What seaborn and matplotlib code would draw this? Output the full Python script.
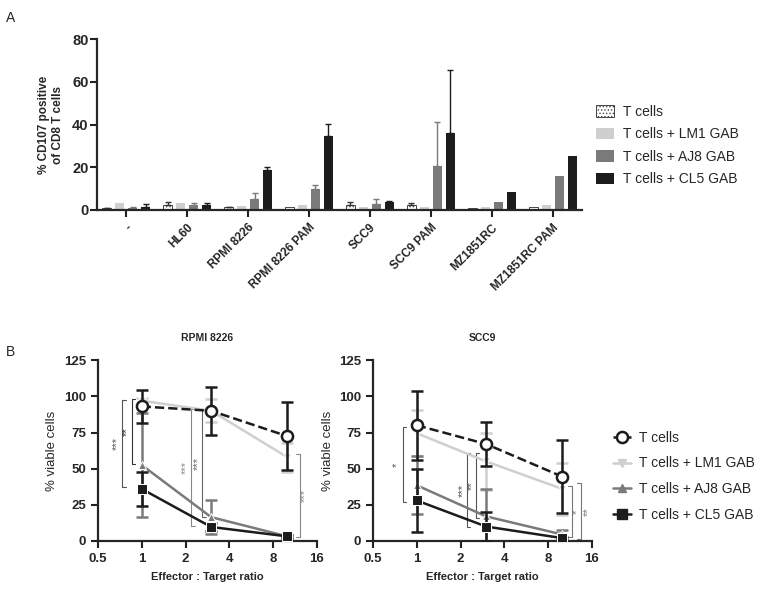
import numpy as np
import pandas as pd
import seaborn as sns
import matplotlib.pyplot as plt
from matplotlib.patches import Patch
from matplotlib.lines import Line2D

# Panel A: CD107 degranulation
cell_lines = ['-', 'HL60', 'RPMI 8226', 'RPMI 8226 PAM', 'SCC9', 'SCC9 PAM', 'MZ1851RC', 'MZ1851RC PAM']
groups = ['T cells', 'T cells + LM1 GAB', 'T cells + AJ8 GAB', 'T cells + CL5 GAB']
cd107_t = [0.8, 2.2, 1.2, 1.5, 2.3, 2.2, 0.8, 1.2]
cd107_t_err = [0.3, 1.4, 0.3, 0.0, 1.4, 1.2, 0.0, 0.0]
cd107_lm1 = [3.3, 3.3, 2.0, 2.3, 1.2, 1.4, 1.5, 2.3]
cd107_lm1_err = [0, 0, 0, 0, 0, 0, 0, 0]
cd107_aj8 = [0.8, 2.2, 5.1, 9.8, 2.7, 20.6, 3.6, 15.9]
cd107_aj8_err = [0.7, 1.2, 3.0, 1.9, 2.4, 20.4, 0.0, 0.0]
cd107_cl5 = [1.2, 2.3, 18.7, 34.8, 3.7, 36.2, 8.3, 25.1]
cd107_cl5_err = [1.8, 0.8, 1.4, 5.3, 0.7, 29.5, 0.0, 0.0]

# Panel B: viability vs E:T ratio
ratios = [1, 3, 10]
rpmi_t = [93, 90, 72.5]
rpmi_t_err = [11.5, 16.5, 23.5]
rpmi_lm1 = [97, 90, 58]
rpmi_lm1_err = [2, 8, 10]
rpmi_aj8 = [52.5, 16.5, 3.2]
rpmi_aj8_err = [36, 11.5, 1]
rpmi_cl5 = [36, 9.7, 3.2]
rpmi_cl5_err = [11.7, 3, 1]

scc9_t = [80, 67, 44.5]
scc9_t_err = [24, 15, 25]
scc9_lm1 = [74.5, 55, 36]
scc9_lm1_err = [16, 20, 18]
scc9_aj8 = [38.5, 17, 4.5]
scc9_aj8_err = [20, 19, 3]
scc9_cl5 = [28, 10, 2]
scc9_cl5_err = [22, 10, 1]

colors = ['white', '#cfcfcf', '#7a7a7a', '#1c1c1c']

sns.set_style('ticks')
plt.rcParams['font.family'] = ['Liberation Sans', 'DejaVu Sans']
plt.rcParams['hatch.linewidth'] = 0.6

fig = plt.figure(figsize=(7.6, 5.89), dpi=100)

# ---------------- Panel A ----------------
axA = fig.add_axes([0.1276, 0.6435, 0.638, 0.290])
vals = [cd107_t, cd107_lm1, cd107_aj8, cd107_cl5]
errs = [cd107_t_err, cd107_lm1_err, cd107_aj8_err, cd107_cl5_err]
df = pd.DataFrame({
    'line': np.tile(cell_lines, 4),
    'group': np.repeat(groups, len(cell_lines)),
    'value': np.concatenate(vals),
})
sns.barplot(data=df, x='line', y='value', hue='group', order=cell_lines, hue_order=groups,
            palette=colors, width=0.85, gap=0.3, errorbar=None, legend=False, ax=axA,
            linewidth=0)
for p in axA.patches:
    if p.get_facecolor()[:3] == (1.0, 1.0, 1.0):
        p.set_hatch('.....')
        p.set_edgecolor('#444444')
        p.set_linewidth(0.7)
slot = 0.85 / 4
for j in range(4):
    xs = np.arange(len(cell_lines)) + (j - 1.5) * slot
    ecol = '#333333' if j == 0 else colors[j]
    e = np.array(errs[j])
    m = e > 0
    axA.errorbar(xs[m], np.array(vals[j])[m], yerr=[np.zeros(m.sum()), e[m]], fmt='none',
                 ecolor=ecol, elinewidth=1.0, capsize=2.5, capthick=1.0)
axA.set_ylim(0, 80)
axA.set_yticks([0, 20, 40, 60, 80])
axA.set_xlim(-0.48, 7.48)
axA.set_xlabel('')
axA.set_ylabel('% CD107 positive\nof CD8 T cells', fontsize=8.5, fontweight='bold',
               labelpad=6, linespacing=1.2)
axA.set_xticks(range(len(cell_lines)))
axA.set_xticklabels(cell_lines, rotation=45, ha='right', rotation_mode='anchor',
                    fontsize=8.5, fontweight='bold')
for t in axA.get_yticklabels():
    t.set_fontweight('bold')
    t.set_fontsize(10.5)
axA.tick_params(width=1.5, length=5, color='#222222')
axA.tick_params(axis='y', pad=1)
sns.despine(ax=axA)
for s in ['left', 'bottom']:
    axA.spines[s].set_linewidth(1.6)

handlesA = [Patch(facecolor='white', edgecolor='#444444', hatch='.....', linewidth=0.7)] + \
    [Patch(facecolor=c, edgecolor='none') for c in colors[1:]]
fig.legend(handlesA, groups, loc='upper left', bbox_to_anchor=(0.768, 0.8436), frameon=False,
           fontsize=10, handlelength=1.3, handleheight=0.9, labelspacing=0.62, handletextpad=0.6)

# ---------------- Panel B ----------------
panels = [
    ('RPMI 8226', [rpmi_t, rpmi_lm1, rpmi_aj8, rpmi_cl5],
     [rpmi_t_err, rpmi_lm1_err, rpmi_aj8_err, rpmi_cl5_err], 0.1289),
    ('SCC9', [scc9_t, scc9_lm1, scc9_aj8, scc9_cl5],
     [scc9_t_err, scc9_lm1_err, scc9_aj8_err, scc9_cl5_err], 0.4908),
]
# significance brackets: (x_line, x_text, y_low, y_high, text, side, color)
brackets = {
    'RPMI 8226': [(0.73, 0.675, 37, 97.5, '***', 'right', '#555555'),
                  (0.854, 0.79, 53, 98, '**', 'right', '#333333'),
                  (2.19, 2.02, 10.6, 91, '***', 'right', '#888888'),
                  (2.6, 2.45, 16.3, 91, '***', 'right', '#666666'),
                  (12.2, 13.3, 2.8, 60, '***', 'left', '#888888')],
    'SCC9': [(0.80, 0.73, 27, 78.7, '*', 'right', '#555555'),
             (2.2, 2.07, 9.4, 60.5, '***', 'right', '#555555'),
             (2.54, 2.38, 15.7, 60.5, '**', 'right', '#555555'),
             (11.7, 12.6, 2.5, 38.2, '*', 'left', '#777777'),
             (13.4, 14.9, 1.2, 39.8, '**', 'left', '#777777')],
}
line_styles = [
    dict(color='#1c1c1c', marker='o', linestyle='--', markerfacecolor='white',
         markeredgecolor='#1c1c1c', markeredgewidth=1.8, markersize=8, zorder=6),
    dict(color='#cfcfcf', marker='v', linestyle='-', markersize=6, zorder=3),
    dict(color='#7a7a7a', marker='^', linestyle='-', markersize=6, zorder=4),
    dict(color='#1c1c1c', marker='s', linestyle='-', markersize=7, zorder=5),
]
order = [1, 2, 3, 0]
for title, svals, serrs, left in panels:
    ax = fig.add_axes([left, 0.0815, 0.288, 0.307])
    for j in order:
        st = line_styles[j]
        ax.errorbar(ratios, svals[j], yerr=serrs[j], fmt='none', ecolor=st['color'],
                    elinewidth=1.8, capsize=4, capthick=1.8, zorder=st['zorder'])
        sns.lineplot(x=ratios, y=svals[j], ax=ax, linewidth=1.8, **st)
    for xl, xt, y0, y1, txt, side, col in brackets[title]:
        k = 1.06 if side == 'right' else 1 / 1.06
        ax.plot([xl * k, xl, xl, xl * k], [y0, y0, y1, y1], color=col, lw=0.8, zorder=2)
        ax.text(xt, (y0 + y1) / 2, txt, rotation=90, ha='center', va='center',
                fontsize=8, color=col)
    ax.set_xscale('log', base=2)
    ax.set_xlim(0.5, 16)
    ax.set_xticks([0.5, 1, 2, 4, 8, 16])
    ax.set_xticklabels(['0.5', '1', '2', '4', '8', '16'])
    ax.minorticks_off()
    ax.set_ylim(0, 125)
    ax.set_yticks([0, 25, 50, 75, 100, 125])
    for t in ax.get_xticklabels() + ax.get_yticklabels():
        t.set_fontweight('bold')
        t.set_fontsize(9.5)
    ax.set_xlabel('Effector : Target ratio', fontsize=8, fontweight='bold', labelpad=5)
    ax.set_ylabel('% viable cells', fontsize=9.5, labelpad=4)
    ax.set_title(title, fontsize=7.5, fontweight='bold', pad=14)
    ax.tick_params(width=1.5, length=5, color='#222222')
    sns.despine(ax=ax)
    for s in ['left', 'bottom']:
        ax.spines[s].set_linewidth(1.6)

handlesB = [Line2D([], [], **{k: v for k, v in line_styles[j].items() if k != 'zorder'},
                   linewidth=1.8) for j in range(4)]
fig.legend(handlesB, groups, loc='upper left', bbox_to_anchor=(0.79, 0.29), frameon=False,
           fontsize=10, handlelength=1.3, labelspacing=0.85, handletextpad=0.6)

fig.text(0.008, 0.962, 'A', fontsize=10)
fig.text(0.008, 0.395, 'B', fontsize=10)

fig.savefig('out.png', dpi=100)
